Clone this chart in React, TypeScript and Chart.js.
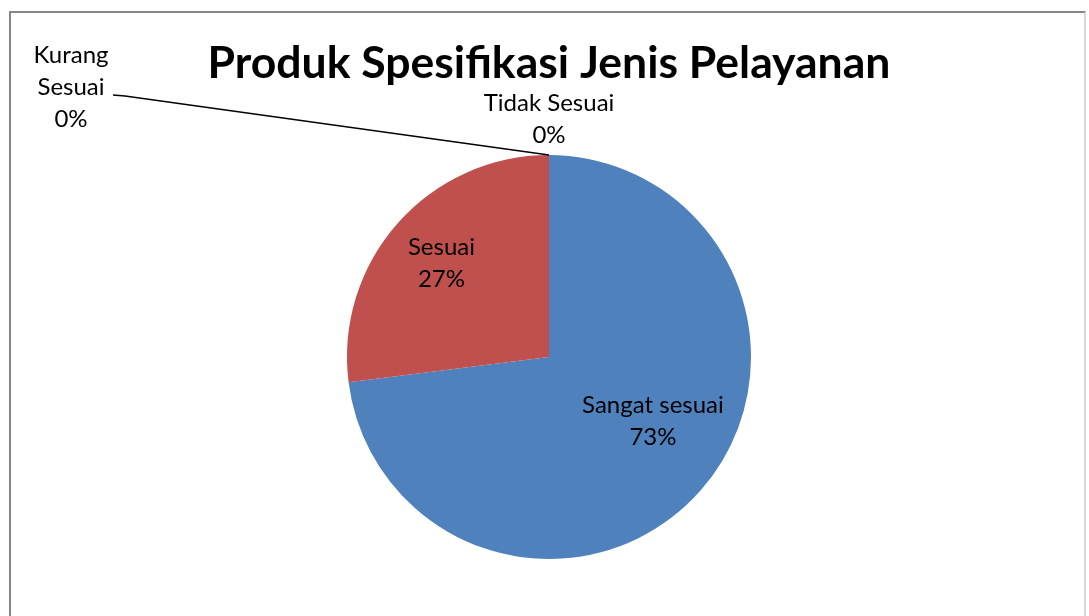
import React, { useEffect, useRef } from "react";
import { Chart, registerables } from "chart.js";

Chart.register(...registerables);

const TITLE = "Produk Spesifikasi Jenis Pelayanan";
const categories = ["Sangat sesuai", "Sesuai", "Kurang Sesuai", "Tidak Sesuai"];
const values = [73, 27, 0, 0];
const percentLabels = ["73%", "27%", "0%", "0%"];
const colors = ["#4F81BD", "#C0504D", "#9BBB59", "#8064A2"];

const FONT = "Lato, 'Open Sans', sans-serif";

const labelPlugin = {
  id: "excelLabels",
  afterDraw(chart: any) {
    const ctx = chart.ctx as CanvasRenderingContext2D;
    const meta = chart.getDatasetMeta(0);
    ctx.save();
    // title
    ctx.fillStyle = "#000";
    ctx.font = `bold 44.5px ${FONT}`;
    ctx.textAlign = "center";
    ctx.textBaseline = "middle";
    ctx.fillText(TITLE, 549, 64);

    ctx.font = `24px ${FONT}`;
    const lh = 32;
    const drawLines = (lines: string[], cx: number, cy: number) => {
      const n = lines.length;
      lines.forEach((t, i) => {
        ctx.fillText(t, cx, cy + (i - (n - 1) / 2) * lh);
      });
    };

    meta.data.forEach((arc: any, i: number) => {
      const { x, y, startAngle, endAngle, outerRadius } = arc.getProps(
        ["x", "y", "startAngle", "endAngle", "outerRadius"],
        true
      );
      const a = (startAngle + endAngle) / 2;
      const ex = x + Math.cos(a) * outerRadius;
      const ey = y + Math.sin(a) * outerRadius;
      if (i === 0) {
        const d = outerRadius * 0.6;
        drawLines([categories[i], percentLabels[i]], x + Math.cos(a) * d + 13, y + Math.sin(a) * d - 16);
      } else if (i === 1) {
        const d = outerRadius * 0.71;
        drawLines([categories[i], percentLabels[i]], x + Math.cos(a) * d, y + Math.sin(a) * d + 1);
      } else if (i === 2) {
        // leader line
        ctx.strokeStyle = "#000";
        ctx.lineWidth = 1.3;
        ctx.beginPath();
        ctx.moveTo(ex, ey);
        ctx.lineTo(ex - 424, ey - 59);
        ctx.lineTo(ex - 436, ey - 60);
        ctx.stroke();
        drawLines(["Kurang", "Sesuai", percentLabels[i]], ex - 478, ey - 68);
      } else {
        drawLines([categories[i], percentLabels[i]], ex, ey - 36);
      }
    });
    ctx.restore();
  },
};

export default function App() {
  const ref = useRef<HTMLCanvasElement>(null);
  useEffect(() => {
    if (!ref.current) return;
    const chart = new Chart(ref.current, {
      type: "pie",
      data: {
        labels: categories,
        datasets: [
          {
            data: values,
            backgroundColor: colors,
            borderColor: "#ffffff",
            borderWidth: 0,
          },
        ],
      },
      options: {
        responsive: false,
        animation: false,
        layout: { padding: { left: 347, right: 338, top: 155, bottom: 57 } },
        plugins: {
          legend: { display: false },
          title: { display: false },
          tooltip: { enabled: false },
        },
      },
      plugins: [labelPlugin],
    });
    return () => chart.destroy();
  }, []);

  return (
    <div style={{ position: "absolute", left: 0, top: 0, width: 1089, height: 616, overflow: "hidden", background: "#fff" }}>
      <div
        style={{
          position: "absolute",
          left: 9,
          top: 11,
          width: 1077,
          height: 640,
          borderTop: "2px solid #868686",
          borderLeft: "2px solid #868686",
          borderRight: "2px solid #d9d9d9",
          boxSizing: "border-box",
        }}
      />
      <canvas ref={ref} width={1089} height={616} style={{ position: "absolute", left: 0, top: 0, display: "block" }} />
    </div>
  );
}
